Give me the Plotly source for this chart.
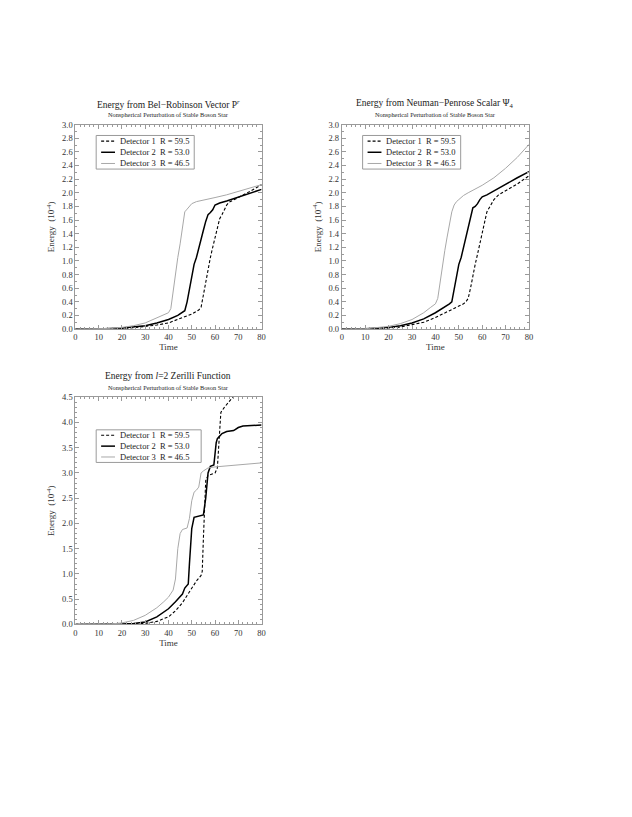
import plotly.graph_objects as go

# time samples and energies (units of 10^-4) read off the reference
# --- panel 1: Bel-Robinson vector
br_t1 = [0, 10, 20, 25, 30, 35, 40, 45, 50, 53, 54, 55, 56, 57, 58, 59, 60, 61, 62, 63, 64, 65, 66, 70, 75, 80]
br_e1 = [0, 0.001, 0.008, 0.02, 0.035, 0.06, 0.09, 0.15, 0.22, 0.28, 0.32, 0.5, 0.7, 0.9, 1.05, 1.2, 1.35, 1.5, 1.62, 1.68, 1.75, 1.82, 1.86, 1.93, 2.02, 2.12]
br_t2 = [0, 10, 20, 25, 30, 35, 40, 44, 46, 47, 48, 49, 50, 51, 52, 53, 54, 55, 56, 57, 58, 59, 60, 62, 65, 70, 75, 80]
br_e2 = [0, 0.002, 0.015, 0.03, 0.05, 0.09, 0.14, 0.2, 0.24, 0.27, 0.4, 0.6, 0.8, 0.95, 1.05, 1.2, 1.35, 1.45, 1.58, 1.68, 1.71, 1.75, 1.82, 1.85, 1.88, 1.94, 2.0, 2.05]
br_t3 = [0, 10, 15, 20, 25, 30, 35, 38, 40, 41, 42, 43, 44, 45, 46, 47, 48, 49, 50, 52, 55, 60, 65, 70, 75, 80]
br_e3 = [0, 0.003, 0.01, 0.025, 0.05, 0.09, 0.16, 0.21, 0.24, 0.3, 0.55, 0.85, 1.05, 1.25, 1.5, 1.72, 1.76, 1.8, 1.84, 1.87, 1.89, 1.93, 1.97, 2.02, 2.07, 2.12]

# --- panel 2: Newman-Penrose Psi4
np_t1 = [0, 10, 20, 25, 30, 35, 40, 45, 50, 52, 53, 54, 55, 56, 57, 58, 59, 60, 61, 62, 63, 64, 65, 67, 70, 75, 80]
np_e1 = [0, 0.003, 0.015, 0.03, 0.06, 0.1, 0.17, 0.25, 0.33, 0.37, 0.4, 0.45, 0.6, 0.8, 0.95, 1.1, 1.25, 1.4, 1.55, 1.72, 1.78, 1.85, 1.9, 1.97, 2.03, 2.13, 2.25]
np_t2 = [0, 10, 20, 25, 30, 35, 40, 44, 46, 47, 48, 49, 50, 51, 52, 53, 54, 55, 56, 57, 58, 59, 60, 62, 65, 70, 75, 80]
np_e2 = [0, 0.004, 0.025, 0.05, 0.09, 0.15, 0.24, 0.32, 0.37, 0.4, 0.6, 0.8, 0.95, 1.05, 1.2, 1.35, 1.5, 1.65, 1.78, 1.8, 1.84, 1.9, 1.94, 1.97, 2.03, 2.12, 2.22, 2.31]
np_t3 = [0, 10, 20, 25, 30, 35, 38, 40, 41, 42, 43, 44, 45, 46, 47, 48, 49, 50, 52, 54, 57, 60, 65, 70, 75, 80]
np_e3 = [0, 0.005, 0.04, 0.08, 0.14, 0.24, 0.32, 0.37, 0.45, 0.7, 0.95, 1.15, 1.35, 1.55, 1.72, 1.82, 1.87, 1.9, 1.96, 2.0, 2.05, 2.11, 2.22, 2.36, 2.52, 2.71]

# --- panel 3: l=2 Zerilli function
zf_t1 = [0, 10, 20, 25, 30, 35, 40, 43, 46, 48, 50, 52, 54, 54.5, 55, 55.5, 56, 57, 58, 60, 61, 61.5, 62, 62.5, 64, 66, 68]
zf_e1 = [0, 0.001, 0.005, 0.01, 0.02, 0.06, 0.15, 0.27, 0.43, 0.58, 0.72, 0.86, 0.97, 1.05, 1.7, 2.5, 2.85, 2.95, 2.97, 3.0, 3.1, 3.5, 4.0, 4.2, 4.3, 4.42, 4.52]
zf_t2 = [0, 10, 20, 25, 30, 35, 40, 43, 46, 47, 48, 48.5, 49, 50, 51, 53, 55, 56, 57, 58, 59.5, 60.5, 61, 63, 65, 68, 70, 72, 80]
zf_e2 = [0, 0.002, 0.01, 0.02, 0.05, 0.15, 0.31, 0.45, 0.6, 0.72, 0.78, 0.8, 1.2, 1.9, 2.12, 2.15, 2.17, 2.5, 3.0, 3.13, 3.16, 3.6, 3.68, 3.78, 3.82, 3.84, 3.9, 3.93, 3.95]
zf_t3 = [0, 10, 15, 20, 25, 30, 35, 38, 40, 42, 43, 44, 45, 46, 48, 49, 50, 51, 52, 53, 54, 55, 57, 60, 65, 70, 75, 80]
zf_e3 = [0, 0.002, 0.008, 0.03, 0.08, 0.18, 0.33, 0.45, 0.54, 0.68, 0.9, 1.5, 1.8, 1.88, 1.91, 2.1, 2.45, 2.62, 2.66, 2.72, 3.0, 3.04, 3.1, 3.12, 3.14, 3.16, 3.18, 3.2]

detector_names = ["Detector 1\u00a0\u00a0R = 59.5", "Detector 2\u00a0\u00a0R = 53.0", "Detector 3\u00a0\u00a0R = 46.5"]
panel_titles = [
    "Energy from Bel\u2212Robinson Vector P<sup><i>r</i></sup>",
    "Energy from Neuman\u2212Penrose Scalar \u03a8<sub>4</sub>",
    "Energy from <i>l</i>=2 Zerilli Function",
]
subtitle = "Nonspherical Perturbation of Stable Boson Star"

FONT = "Liberation Serif"
W, H = 632, 817

# panel boxes in pixels: (left, right, top, bottom)
boxes = [(66, 254, 113, 320), (335, 524, 113, 320), (66, 254, 389, 619)]
y_ranges = [(0, 3.0, 0.2, 0.1), (0, 3.0, 0.2, 0.1), (0, 4.5, 0.5, 0.1)]
# legend box offsets from the panel corner: (dx0, dx1, dy0, dy1)
legend_boxes = [(21, 120, 11, 45), (21, 120, 11, 45), (21, 127, 33, 66)]
data = [
    [(br_t1, br_e1), (br_t2, br_e2), (br_t3, br_e3)],
    [(np_t1, np_e1), (np_t2, np_e2), (np_t3, np_e3)],
    [(zf_t1, zf_e1), (zf_t2, zf_e2), (zf_t3, zf_e3)],
]
styles = [
    dict(color="black", width=1.1, dash="3px,2px"),
    dict(color="black", width=1.5),
    dict(color="#a8a8a8", width=1),
]


def px(x):
    return x / W


def py(y):
    return 1 - y / H


fig = go.Figure()

for p in range(3):
    left, right, top, bottom = boxes[p]
    sfx = "" if p == 0 else str(p + 1)
    for k, (t, e) in enumerate(data[p]):
        fig.add_trace(go.Scatter(
            x=t, y=e, mode="lines", line=styles[k], name=detector_names[k],
            xaxis="x" + sfx, yaxis="y" + sfx, showlegend=False, cliponaxis=True,
        ))

    y0, y1, dt, mdt = y_ranges[p]
    axis_common = dict(
        showline=True, linecolor="#9a9a9a", linewidth=1, mirror="allticks",
        ticks="inside", ticklen=4, tickcolor="#9a9a9a", showgrid=False, zeroline=False,
        tickfont=dict(family=FONT, size=8.5, color="#333333"),
    )
    fig.layout["xaxis" + sfx] = dict(
        axis_common, domain=[px(left), px(right)], range=[0, 80], dtick=10,
        anchor="y" + sfx,
        minor=dict(dtick=2, ticks="inside", ticklen=2, tickcolor="#9a9a9a"),
        title=dict(text="Time", font=dict(family=FONT, size=9, color="#333333"), standoff=0),
    )
    fig.layout["yaxis" + sfx] = dict(
        axis_common, domain=[py(bottom), py(top)], range=[y0, y1], dtick=dt,
        tickformat=".1f", anchor="x" + sfx,
        minor=dict(dtick=mdt, ticks="inside", ticklen=2, tickcolor="#9a9a9a"),
        title=dict(text="Energy\u00a0\u00a0(10<sup>-4</sup>)",
                   font=dict(family=FONT, size=9, color="#333333"), standoff=5),
    )

    # titles
    cx = px((left + right) / 2)
    fig.add_annotation(x=cx, y=py(top - 21), xref="paper", yref="paper",
                       xanchor="center", yanchor="middle",
                       text=panel_titles[p], showarrow=False,
                       font=dict(family=FONT, size=9.5, color="#222222"))
    fig.add_annotation(x=cx, y=py(top - 10), xref="paper", yref="paper",
                       xanchor="center", yanchor="middle",
                       text=subtitle, showarrow=False,
                       font=dict(family=FONT, size=6.3, color="#222222"))

    # legend box
    dx0, dx1, dy0, dy1 = legend_boxes[p]
    fig.add_shape(type="rect", xref="paper", yref="paper",
                  x0=px(left + dx0), x1=px(left + dx1), y0=py(top + dy0), y1=py(top + dy1),
                  fillcolor="white", line=dict(color="#9a9a9a", width=1), layer="above")
    row_h = (dy1 - dy0) / 3
    for k in range(3):
        ry = top + dy0 + row_h * (k + 0.5)
        fig.add_shape(type="line", xref="paper", yref="paper",
                      x0=px(left + dx0 + 5), x1=px(left + dx0 + 19), y0=py(ry), y1=py(ry),
                      line=styles[k], layer="above")
        fig.add_annotation(x=px(left + dx0 + 22), y=py(ry), xref="paper", yref="paper",
                           xanchor="left", yanchor="middle", text=detector_names[k],
                           showarrow=False,
                           font=dict(family=FONT, size=8.5, color="#222222"))

fig.update_layout(
    width=W, height=H, margin=dict(l=0, r=0, t=0, b=0),
    paper_bgcolor="white", plot_bgcolor="white",
    showlegend=False,
)

fig.write_html("out.html")
